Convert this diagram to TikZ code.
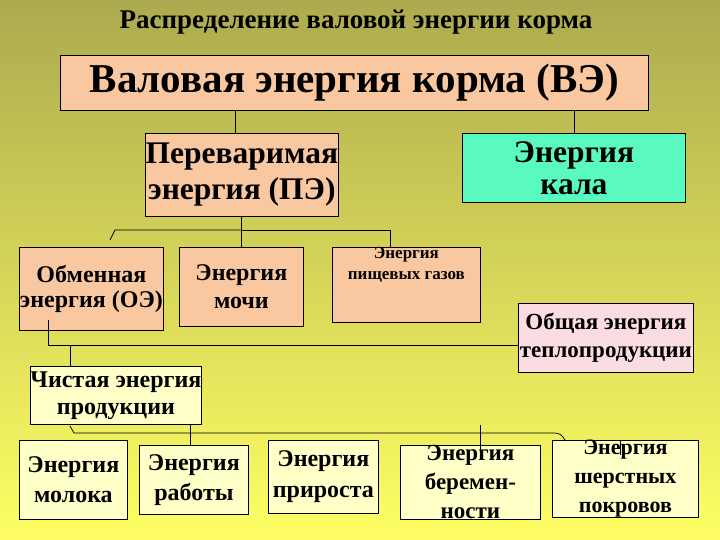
\documentclass[tikz,border=0pt]{standalone}
\usepackage{fontspec}
\setmainfont{Liberation Serif}
\begin{document}
\begin{tikzpicture}[x=1pt,y=-1pt,
  bx/.style={draw=black,line width=0.8pt,anchor=north west,inner sep=0pt,align=center,font=\bfseries},
  peach/.style={fill=peachc},
  pale/.style={fill=palec},
  ln/.style={draw=black,line width=0.7pt}]
\definecolor{peachc}{RGB}{250,200,160}
\definecolor{palec}{RGB}{255,255,200}
\definecolor{aquac}{RGB}{90,250,190}
\definecolor{pinkc}{RGB}{250,220,225}
\definecolor{topc}{RGB}{172,170,78}
\definecolor{botc}{RGB}{255,255,100}
\shade[top color=topc,bottom color=botc] (0,0) rectangle (720,540);
\useasboundingbox (0,0) rectangle (720,540);
\node[font=\bfseries\fontsize{27}{29}\selectfont] (title) at (356,22) {Распределение валовой энергии корма};
\node[bx,peach,minimum width=588pt,minimum height=55pt,font=\bfseries\fontsize{41}{44}\selectfont] (ve) at (60,55) {Валовая энергия корма (ВЭ)};
\node[bx,peach,minimum width=193pt,minimum height=83pt,font=\bfseries\fontsize{31.5}{36}\selectfont] (pe) at (145,133) {Переваримая\\энергия (ПЭ)};
\node[bx,fill=aquac,minimum width=223pt,minimum height=69pt,font=\bfseries\fontsize{31.5}{32}\selectfont] (kal) at (462,133) {Энергия\\кала};
\node[bx,peach,minimum width=144pt,minimum height=83pt,font=\bfseries\fontsize{24}{25}\selectfont] (oe) at (19,247) {Обменная\\энергия (ОЭ)};
\node[bx,peach,minimum width=124pt,minimum height=79pt,font=\bfseries\fontsize{24}{28}\selectfont] (moch) at (179,247) {Энергия\\мочи};
\node[bx,peach,minimum width=148pt,minimum height=75pt,font=\bfseries\fontsize{17}{21}\selectfont] (gaz) at (332,247) {Энергия\\пищевых газов\\[22pt]};
\node[bx,fill=pinkc,minimum width=175pt,minimum height=69pt,font=\bfseries\fontsize{23}{28}\selectfont] (teplo) at (518,303) {Общая энергия\\теплопродукции};
\node[bx,pale,minimum width=168pt,minimum height=58pt,font=\bfseries\fontsize{24}{27}\selectfont] (chist) at (30,366) {Чистая энергия\\продукции};
\node[bx,pale,minimum width=108pt,minimum height=79pt,font=\bfseries\fontsize{24}{30}\selectfont] (mol) at (19,440) {Энергия\\молока};
\node[bx,pale,minimum width=109pt,minimum height=69pt,font=\bfseries\fontsize{24}{30}\selectfont] (rab) at (139,445) {Энергия\\работы};
\node[bx,pale,minimum width=110pt,minimum height=73pt,font=\bfseries\fontsize{24}{31}\selectfont] (prir) at (268,440) {Энергия\\прироста};
\node[bx,pale,minimum width=140pt,minimum height=74pt,font=\bfseries\fontsize{23}{29}\selectfont] (ber) at (400,445) {Энергия\\беремен-\\ности};
\node[bx,pale,minimum width=146pt,minimum height=73pt,font=\bfseries\fontsize{22}{29}\selectfont] (sher) at (552,440) {Энергия\\шерстных\\покровов};
% connectors
\draw[ln] (235,110) -- (pe.north -| 235,0);
\draw[ln] (ve.south -| kal.north) -- (kal.north);
\draw[ln] (241,216) |- (390,230) -- (gaz.north -| 390,0);
\draw[ln] (241,230) -- (moch.north -| 241,0);
\draw[ln] (241,230) -- (115,230) -- (110,240);
\draw[ln] (48,320) |- (teplo.west |- 0,345);
\draw[ln] (70,345) -- (chist.north -| 70,0);
\draw[ln] (70,426) -- (74,433) -- (555,433) to[out=0,in=120] (565,440);
\draw[ln] (190,424) -- (rab.north -| 190,0);
\draw[ln] (480,425) -- (480,460);
\draw[ln] (620,440) -- (620,455);
\end{tikzpicture}
\end{document}
